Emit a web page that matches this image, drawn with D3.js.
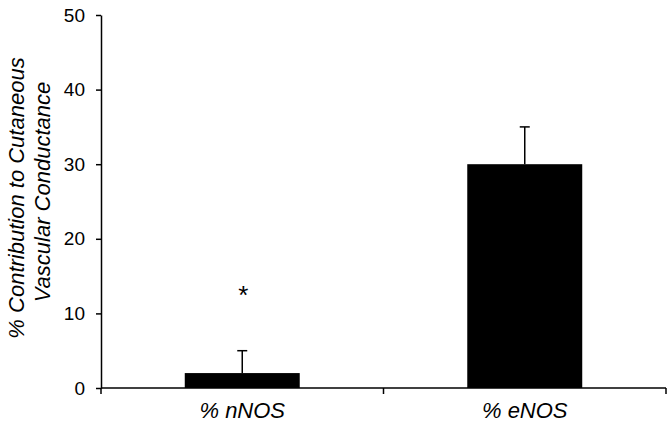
<!DOCTYPE html>
<html>
<head>
<meta charset="utf-8">
<script src="https://cdn.jsdelivr.net/npm/d3@7"></script>
<style>
  body { margin: 0; background: #fff; }
  text { font-family: "Liberation Sans", Arial, sans-serif; fill: #000; }
</style>
</head>
<body>
<div id="chart"></div>
<script>
// data
var categories = ["% nNOS", "% eNOS"];
var values = [2, 30];
var errors = [3, 5];
var marks = ["*", ""];   // significance markers
var yTicks = [0, 10, 20, 30, 40, 50];

var width = 669, height = 427;
// plot edges (note: "top" is a reserved window property, so prefix them)
var pLeft = 101, pRight = 666, pTop = 15, pBottom = 388;

var svg = d3.select("#chart").append("svg")
	.attr("width", width)
	.attr("height", height);

var x = d3.scaleBand()
	.domain(categories)
	.range([pLeft, pRight])
	.paddingInner(0.593)
	.paddingOuter(0.2965);

var y = d3.scaleLinear()
	.domain([0, 50])
	.range([pBottom, pTop]);

// y axis
var yAxis = svg.append("g")
	.attr("transform", "translate(" + pLeft + ",0)")
	.call(d3.axisLeft(y).tickValues(yTicks).tickSize(5).tickSizeOuter(0).tickPadding(11));
yAxis.select(".domain").attr("stroke", "#000").attr("stroke-width", 1.5);
yAxis.selectAll(".tick line").attr("stroke", "#000").attr("stroke-width", 1.5);
yAxis.selectAll(".tick text")
	.style("font-size", "19px")
	.style("font-family", "'Liberation Sans', Arial, sans-serif");

// bars
svg.selectAll(".bar")
	.data(categories)
	.enter().append("rect")
	.attr("class", "bar")
	.attr("x", function(d) { return x(d); })
	.attr("width", x.bandwidth())
	.attr("y", function(d, i) { return y(values[i]); })
	.attr("height", function(d, i) { return y(0) - y(values[i]); })
	.attr("fill", "#000");

// error bars (upper only)
var err = svg.selectAll(".err")
	.data(categories)
	.enter().append("g")
	.attr("class", "err");
err.append("line")
	.attr("x1", function(d) { return x(d) + x.bandwidth() / 2; })
	.attr("x2", function(d) { return x(d) + x.bandwidth() / 2; })
	.attr("y1", function(d, i) { return y(values[i]); })
	.attr("y2", function(d, i) { return y(values[i] + errors[i]); })
	.attr("stroke", "#000")
	.attr("stroke-width", 1.5);
err.append("line")
	.attr("x1", function(d) { return x(d) + x.bandwidth() / 2 - 5; })
	.attr("x2", function(d) { return x(d) + x.bandwidth() / 2 + 5; })
	.attr("y1", function(d, i) { return y(values[i] + errors[i]); })
	.attr("y2", function(d, i) { return y(values[i] + errors[i]); })
	.attr("stroke", "#000")
	.attr("stroke-width", 1.5);

// asterisk
svg.selectAll(".mark")
	.data(categories)
	.enter().append("text")
	.attr("class", "mark")
	.attr("x", function(d) { return x(d) + x.bandwidth() / 2 + 1; })
	.attr("y", y(11.2))
	.attr("text-anchor", "middle")
	.style("font-size", "26px")
	.text(function(d, i) { return marks[i]; });

// x axis line and category boundary ticks
svg.append("line")
	.attr("x1", pLeft).attr("x2", pRight)
	.attr("y1", y(0)).attr("y2", y(0))
	.attr("stroke", "#000").attr("stroke-width", 1.5);
var bounds = d3.range(categories.length + 1).map(function(i) { return pLeft + i * x.step(); });
svg.selectAll(".xtick")
	.data(bounds)
	.enter().append("line")
	.attr("class", "xtick")
	.attr("x1", function(d) { return d; })
	.attr("x2", function(d) { return d; })
	.attr("y1", y(0))
	.attr("y2", y(0) + 6)
	.attr("stroke", "#000").attr("stroke-width", 1.5);

// category labels
svg.selectAll(".xlab")
	.data(categories)
	.enter().append("text")
	.attr("class", "xlab")
	.attr("x", function(d) { return x(d) + x.bandwidth() / 2; })
	.attr("y", 418)
	.attr("text-anchor", "middle")
	.style("font-size", "22px")
	.style("font-style", "italic")
	.text(function(d) { return d; });

// y title, two lines
var title = svg.append("text")
	.attr("transform", "translate(24,198) rotate(-90)")
	.attr("text-anchor", "middle")
	.style("font-size", "22px")
	.style("font-style", "italic");
title.append("tspan").attr("x", 0).attr("dy", 0).text("% Contribution to Cutaneous");
title.append("tspan").attr("x", 6).attr("dy", 26).text("Vascular Conductance");
</script>
</body>
</html>
